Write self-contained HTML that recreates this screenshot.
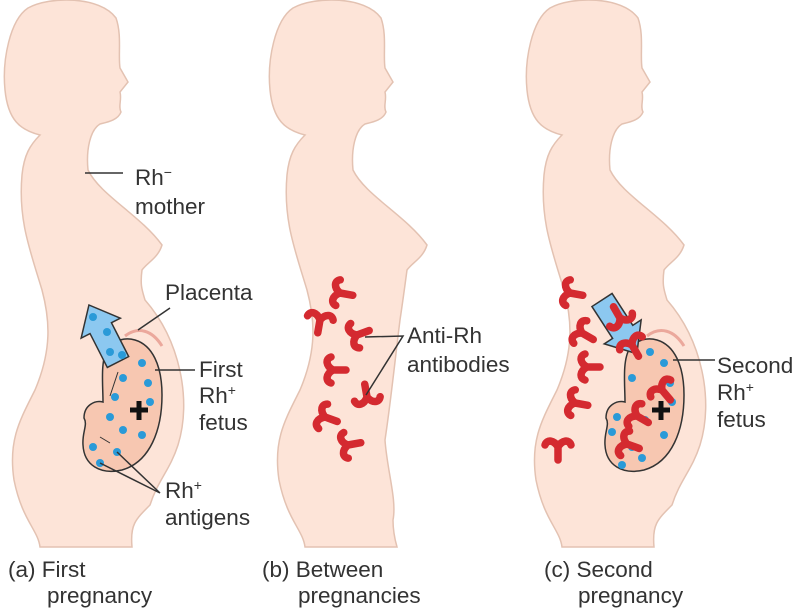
<!DOCTYPE html>
<html><head><meta charset="utf-8"><style>
html,body{margin:0;padding:0;background:#fff;}
svg{display:block;}
text{font-family:"Liberation Sans",sans-serif;font-size:22.5px;fill:#333;}
</style></head><body>
<svg width="800" height="609" viewBox="0 0 800 609" xmlns="http://www.w3.org/2000/svg">
<defs>
<path id="preg" d="M28,8 C50,-4 100,-4 116,18 C122,35 118,55 120,68 L128,82 L120,92 C122,100 118,106 121,112 C118,120 108,122 100,124 C90,130 86,150 88,170 C100,195 140,215 162,245 C158,258 148,262 142,270 C140,285 142,290 145,300 C180,340 192,400 178,445 C170,470 158,480 150,505 C135,520 130,525 132,547 L40,547 C38,530 22,520 14,480 C8,440 20,420 35,390 C52,350 50,320 42,290 C30,250 18,220 22,175 C24,155 30,145 40,135 C20,130 8,120 5,90 C2,60 10,20 28,8 Z"/>
<path id="flat" d="M28,8 C50,-4 100,-4 116,18 C122,35 118,55 120,68 L128,82 L120,92 C122,100 118,106 121,112 C118,120 108,122 100,124 C90,130 86,150 88,170 C100,195 140,215 162,245 C158,258 148,262 142,270 C140,285 138,300 135,320 C130,360 126,400 120,440 C122,470 132,500 128,520 C128,530 130,540 132,547 L40,547 C38,530 22,520 14,480 C8,440 20,420 35,390 C52,350 50,320 42,290 C30,250 18,220 22,175 C24,155 30,145 40,135 C20,130 8,120 5,90 C2,60 10,20 28,8 Z"/>
<path id="fetus" d="M135,340 C152,345 162,365 162,395 C162,430 150,462 122,470 C100,475 84,465 83,445 C82,432 88,425 84,418 C84,405 95,400 103,402 C103,385 100,360 108,348 C115,340 125,337 135,340 Z"/>
<g id="ab"><path d="M0,13 L0,0 M0,0 C-4,-7 -11,-8 -13,-2 M0,0 C4,-7 11,-8 13,-2" fill="none" stroke="#d42a30" stroke-width="7.5" stroke-linecap="round"/></g>
<g id="dot"><circle r="4" fill="#2a9ad8"/></g>
</defs>

<!-- (a) -->
<use href="#preg" fill="#fde4d8" stroke="#e3c2b2" stroke-width="1.5"/>
<path d="M125,336 C138,326 152,330 162,346" fill="none" stroke="#eba89c" stroke-width="3"/>
<use href="#fetus" fill="#f7c7b1" stroke="#333" stroke-width="1.5"/>
<path d="M118,372 L110,396 M100,437 L110,443" stroke="#333" stroke-width="1" fill="none"/>
<g transform="translate(118,362) rotate(-117)">
<polygon points="0,-12 38,-12 38,-22 64,0 38,22 38,12 0,12" fill="#8cc8f0" stroke="#333" stroke-width="1.5"/>
</g>
<g>
<use href="#dot" x="93" y="317"/><use href="#dot" x="107" y="332"/><use href="#dot" x="110" y="352"/><use href="#dot" x="122" y="355"/><use href="#dot" x="142" y="363"/><use href="#dot" x="123" y="378"/><use href="#dot" x="148" y="383"/><use href="#dot" x="115" y="397"/><use href="#dot" x="150" y="402"/><use href="#dot" x="110" y="417"/><use href="#dot" x="123" y="430"/><use href="#dot" x="142" y="435"/><use href="#dot" x="93" y="447"/><use href="#dot" x="117" y="452"/><use href="#dot" x="100" y="463"/>
</g>
<path d="M139,401 V420 M130,410 H148" stroke="#111" stroke-width="5"/>
<g stroke="#333" stroke-width="1.5" fill="none">
<path d="M85,173 H123"/><path d="M138,330 L170,308"/><path d="M155,370 H195"/><path d="M100,463 L160,493 M117,452 L160,493"/>
</g>
<text x="135" y="185">Rh<tspan dy="-8" font-size="14">−</tspan></text>
<text x="135" y="214">mother</text>
<text x="165" y="300">Placenta</text>
<text x="199" y="377">First</text>
<text x="199" y="403">Rh<tspan dy="-8" font-size="14">+</tspan></text>
<text x="199" y="430">fetus</text>
<text x="165" y="498">Rh<tspan dy="-8" font-size="14">+</tspan></text>
<text x="165" y="525">antigens</text>
<text x="8" y="577">(a) First</text>
<text x="47" y="603">pregnancy</text>

<!-- (b) -->
<use href="#flat" transform="translate(265,0)" fill="#fde4d8" stroke="#e3c2b2" stroke-width="1.5"/>
<use href="#ab" transform="translate(340,293) rotate(-80)"/>
<use href="#ab" transform="translate(320,320) rotate(10)"/>
<use href="#ab" transform="translate(357,335) rotate(-110)"/>
<use href="#ab" transform="translate(333,370) rotate(-90)"/>
<use href="#ab" transform="translate(367,397) rotate(170)"/>
<use href="#ab" transform="translate(325,417) rotate(-70)"/>
<use href="#ab" transform="translate(348,445) rotate(-100)"/>
<g stroke="#333" stroke-width="1.5" fill="none"><path d="M365,337 L403,336 L366,395"/></g>
<text x="407" y="343">Anti-Rh</text>
<text x="407" y="372">antibodies</text>
<text x="262" y="577">(b) Between</text>
<text x="298" y="603">pregnancies</text>

<!-- (c) -->
<g transform="translate(522,0)">
<use href="#preg" fill="#fde4d8" stroke="#e3c2b2" stroke-width="1.5"/>
<path d="M125,336 C138,326 152,330 162,346" fill="none" stroke="#eba89c" stroke-width="3"/>
<use href="#fetus" fill="#f7c7b1" stroke="#333" stroke-width="1.5"/>
<g transform="translate(80,300) rotate(57)">
<polygon points="0,-12 38,-12 38,-22 64,0 38,22 38,12 0,12" fill="#8cc8f0" stroke="#333" stroke-width="1.5"/>
</g>
<use href="#dot" x="142" y="363"/><use href="#dot" x="110" y="378"/><use href="#dot" x="148" y="383"/><use href="#dot" x="150" y="402"/><use href="#dot" x="95" y="417"/><use href="#dot" x="123" y="420"/><use href="#dot" x="90" y="432"/><use href="#dot" x="142" y="435"/><use href="#dot" x="110" y="447"/><use href="#dot" x="120" y="458"/><use href="#dot" x="100" y="465"/><use href="#dot" x="128" y="352"/>
<use href="#ab" transform="translate(98,318) rotate(150)"/>
<use href="#ab" transform="translate(110,345) rotate(-30)"/>
<use href="#ab" transform="translate(140,390) rotate(-40)"/>
<use href="#ab" transform="translate(115,416) rotate(-60)"/>
<use href="#ab" transform="translate(105,444) rotate(-70)"/>
<path d="M139,401 V420 M130,410 H148" stroke="#111" stroke-width="5"/>
<path d="M151,360 H193" stroke="#333" stroke-width="1.5"/>
</g>
<use href="#ab" transform="translate(570,293) rotate(-80)"/>
<use href="#ab" transform="translate(582,333) rotate(-60)"/>
<use href="#ab" transform="translate(587,367) rotate(-90)"/>
<use href="#ab" transform="translate(575,403) rotate(-80)"/>
<use href="#ab" transform="translate(558,447) rotate(0)"/>
<text x="717" y="373">Second</text>
<text x="717" y="400">Rh<tspan dy="-8" font-size="14">+</tspan></text>
<text x="717" y="427">fetus</text>
<text x="544" y="577">(c) Second</text>
<text x="578" y="603">pregnancy</text>
</svg>
</body></html>
